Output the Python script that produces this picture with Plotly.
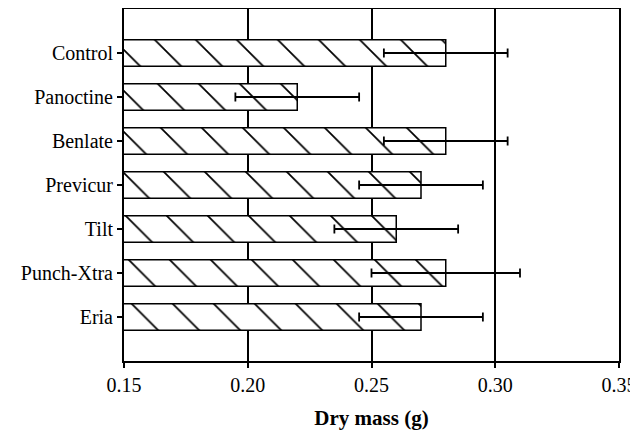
import plotly.graph_objects as go

categories = ["Control", "Panoctine", "Benlate", "Previcur", "Tilt", "Punch-Xtra", "Eria"]
dry_mass = [0.28, 0.22, 0.28, 0.27, 0.26, 0.28, 0.27]
errors = [0.025, 0.025, 0.025, 0.025, 0.025, 0.03, 0.025]
x_ticks = [0.15, 0.20, 0.25, 0.30, 0.35]
x_tick_labels = ["0.15", "0.20", "0.25", "0.30", "0.35"]

n = len(categories)
ypos = [n - i for i in range(n)]

fig = go.Figure()
fig.add_trace(go.Bar(
    y=ypos, x=dry_mass, orientation="h", width=0.6,
    marker=dict(color="white", line=dict(color="black", width=1.5),
                pattern=dict(shape="\\", fgcolor="black", bgcolor="white",
                             size=29, solidity=0.06, fillmode="replace")),
    error_x=dict(type="data", array=errors, visible=True, color="black",
                 thickness=1.8, width=4.5),
))

font = dict(family="Liberation Serif", size=20, color="black")
fig.update_layout(
    width=630, height=422,
    margin=dict(l=116, r=19, t=1, b=69),
    paper_bgcolor="white", plot_bgcolor="white",
    showlegend=False, font=font,
    xaxis=dict(range=[0.15, 0.35], tickvals=x_ticks, ticktext=x_tick_labels,
               showgrid=True, gridcolor="black", gridwidth=1.8,
               showline=True, linecolor="black", linewidth=2, mirror=True,
               ticks="outside", ticklen=5, tickcolor="black", tickwidth=1.5,
               zeroline=False, automargin=False,
               title=dict(text="<b>Dry mass (g)</b>", font=dict(family="Liberation Serif", size=21), standoff=17),
               tickfont=font),
    yaxis=dict(range=[0, n + 1], tickvals=ypos, ticktext=categories,
               showgrid=False, showline=True, linecolor="black", linewidth=2, mirror=True,
               ticks="outside", ticklen=5, tickcolor="black", tickwidth=1.5,
               zeroline=False, automargin=False, tickfont=font),
)
fig.write_html("out.html")
